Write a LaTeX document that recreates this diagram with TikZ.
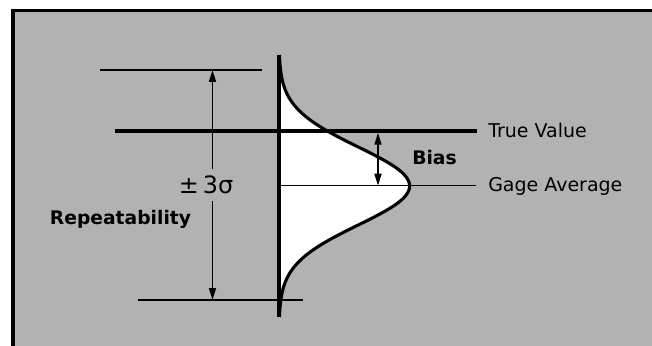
\documentclass[tikz,border=0pt]{standalone}
\usepackage{fontspec}
\setmainfont{DejaVu Sans}
\usepackage{xcolor}
\usetikzlibrary{arrows.meta,positioning}

\definecolor{panel}{RGB}{178,178,178}

\begin{document}
\begin{tikzpicture}[
  x=0.025cm, y=-0.025cm,
  refline/.style={draw, line width=1.1pt},
  trueline/.style={draw, line width=3pt},
  axisline/.style={draw, line width=2.2pt},
  dimarr/.style={{Triangle[length=8.5pt,width=5pt]}-{Triangle[length=8.5pt,width=5pt]}, line width=1.1pt},
  lbl/.style={font=\fontsize{13.5}{16}\selectfont, inner sep=0pt},
  blbl/.style={font=\fontsize{13.3}{16}\selectfont\bfseries, inner sep=0pt}
]
\useasboundingbox (0,0) rectangle (652,346);
\clip (0,0) rectangle (652,346);
\fill[white] (0,0) rectangle (652,346);
\draw[fill=panel, line width=2.5pt] (13,10.7) rectangle (680,380);

% distribution
\fill[white] (279,55) -- plot[domain=55:317, samples=100] ({279+130.6*exp(-0.5*((\x-186)/39)^2)}, {\x}) -- (279,317) -- cycle;
\draw[line width=2.2pt] plot[domain=55:317, samples=100] ({279+130.6*exp(-0.5*((\x-186)/39)^2)}, {\x});

% reference lines
\coordinate (topL) at (100,70);
\coordinate (topR) at (262,70);
\coordinate (botL) at (138,300);
\coordinate (botR) at (303,300);
\coordinate (trueL) at (115,130.7);
\coordinate (trueR) at (477,130.7);
\coordinate (gageL) at (279,185.7);
\coordinate (gageR) at (476,185.7);
\coordinate (axisT) at (279,55);
\coordinate (axisB) at (279,317);

\draw[refline] (topL) -- (topR);
\draw[refline] (botL) -- (botR);
\draw[refline] (gageL) -- (gageR);
\draw[trueline] (trueL) -- (trueR);
\draw[axisline] (axisT) -- (axisB);

% dimension arrows
\coordinate (repT) at (212.5,70);
\coordinate (repB) at (212.5,300);
\coordinate (biasT) at (378,132.8);
\coordinate (biasB) at (378,185.7);

\draw[dimarr] (repT) -- node[lbl, font=\fontsize{17}{20}\selectfont, fill=panel, inner ysep=5pt, inner xsep=1pt, xshift=-0.16cm] (sigma) {±\,3σ} (repB);
\draw[dimarr] (biasT) -- (biasB);

% labels
\node[lbl, anchor=west] (truelbl) at (488,130) {True Value};
\node[lbl, anchor=west] (gagelbl) at (488,186) {Gage Average};
\node[blbl] (biaslbl) at (434.5,158) {Bias};
\node[blbl] (replbl) at (120.5,219) {Repeatability};

\end{tikzpicture}
\end{document}
